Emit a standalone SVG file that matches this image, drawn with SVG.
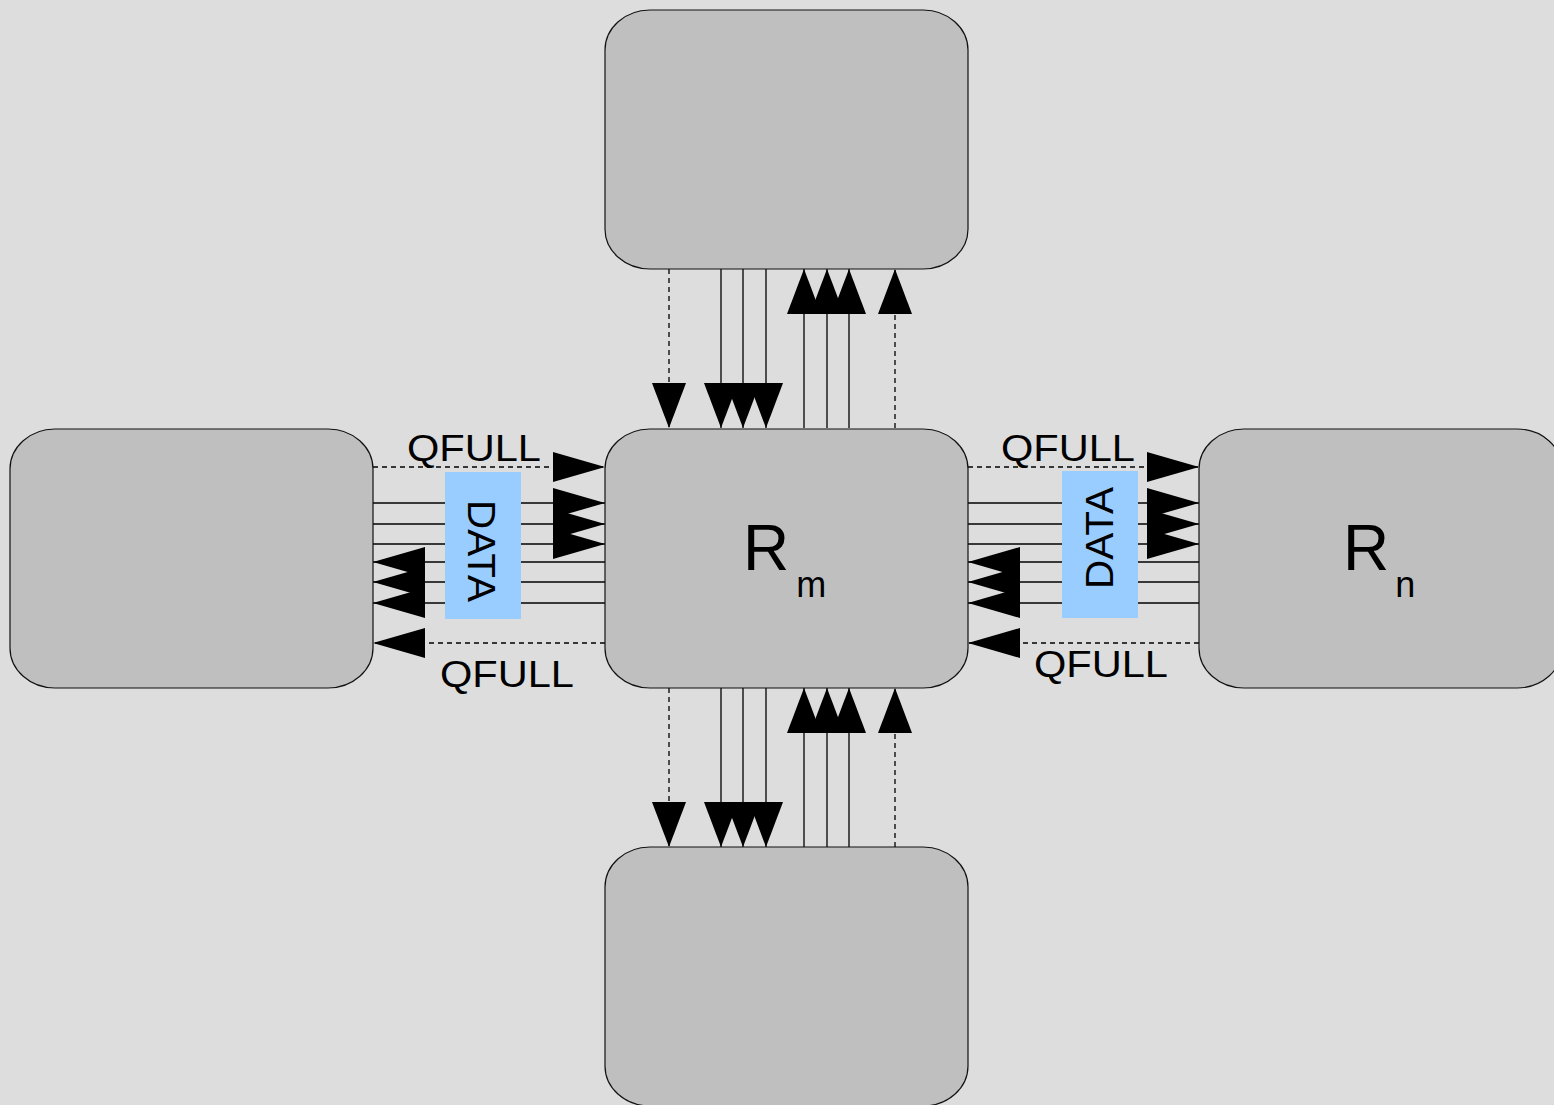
<svg xmlns="http://www.w3.org/2000/svg" width="1554" height="1105" viewBox="0 0 1554 1105">
<defs>
<style>
.box{fill:#bfbfbf;stroke:#111;stroke-width:1.2}
.ln{stroke:#000;stroke-width:1.3;fill:none}
.dash{stroke:#000;stroke-width:1.3;fill:none;stroke-dasharray:5,4}
.ah{marker-end:url(#ah)}
.av{marker-end:url(#av)}
.lbl{font-family:"Liberation Sans",Arial,sans-serif;fill:#000}
.data{fill:#99ccff}
</style>
<marker id="ah" markerUnits="userSpaceOnUse" markerWidth="52" markerHeight="30" refX="52" refY="15" orient="auto" overflow="visible">
<polygon points="0,0 52,15 0,30" fill="#000"/>
</marker>
<marker id="av" markerUnits="userSpaceOnUse" markerWidth="45" markerHeight="34" refX="45" refY="17" orient="auto" overflow="visible">
<polygon points="0,0 45,17 0,34" fill="#000"/>
</marker>
</defs>
<rect width="1554" height="1105" fill="#dddddd"/>

<g id="connectors">
<g id="left-links">
<line class="dash ah" x1="373" y1="467" x2="605" y2="467"/>
<line class="ln ah" x1="373" y1="503" x2="605" y2="503"/>
<line class="ln ah" x1="373" y1="524" x2="605" y2="524"/>
<line class="ln ah" x1="373" y1="544" x2="605" y2="544"/>
<line class="ln ah" x1="605" y1="562" x2="373" y2="562"/>
<line class="ln ah" x1="605" y1="582" x2="373" y2="582"/>
<line class="ln ah" x1="605" y1="603" x2="373" y2="603"/>
<line class="dash ah" x1="605" y1="643" x2="373" y2="643"/>
</g>
<g id="right-links">
<line class="dash ah" x1="968" y1="467" x2="1199" y2="467"/>
<line class="ln ah" x1="968" y1="503" x2="1199" y2="503"/>
<line class="ln ah" x1="968" y1="524" x2="1199" y2="524"/>
<line class="ln ah" x1="968" y1="544" x2="1199" y2="544"/>
<line class="ln ah" x1="1199" y1="562" x2="968" y2="562"/>
<line class="ln ah" x1="1199" y1="582" x2="968" y2="582"/>
<line class="ln ah" x1="1199" y1="603" x2="968" y2="603"/>
<line class="dash ah" x1="1199" y1="643" x2="968" y2="643"/>
</g>
<g id="top-links">
<line class="dash av" x1="669" y1="269" x2="669" y2="428"/>
<line class="ln av" x1="721" y1="269" x2="721" y2="428"/>
<line class="ln av" x1="743" y1="269" x2="743" y2="428"/>
<line class="ln av" x1="766" y1="269" x2="766" y2="428"/>
<line class="ln av" x1="804" y1="428" x2="804" y2="269"/>
<line class="ln av" x1="827" y1="428" x2="827" y2="269"/>
<line class="ln av" x1="849" y1="428" x2="849" y2="269"/>
<line class="dash av" x1="895" y1="428" x2="895" y2="269"/>
</g>
<g id="bottom-links">
<line class="dash av" x1="669" y1="688" x2="669" y2="847"/>
<line class="ln av" x1="721" y1="688" x2="721" y2="847"/>
<line class="ln av" x1="743" y1="688" x2="743" y2="847"/>
<line class="ln av" x1="766" y1="688" x2="766" y2="847"/>
<line class="ln av" x1="804" y1="847" x2="804" y2="688"/>
<line class="ln av" x1="827" y1="847" x2="827" y2="688"/>
<line class="ln av" x1="849" y1="847" x2="849" y2="688"/>
<line class="dash av" x1="895" y1="847" x2="895" y2="688"/>
</g>
</g>

<g id="node-top"><rect class="box" x="605" y="10" width="363" height="259" rx="45" ry="40"/></g>
<g id="node-left"><rect class="box" x="10" y="429" width="363" height="259" rx="45" ry="40"/></g>
<g id="node-center">
<rect class="box" x="605" y="429" width="363" height="259" rx="45" ry="40"/>
<text class="lbl" x="743" y="570" font-size="64">R<tspan font-size="36" dx="7" dy="27">m</tspan></text>
</g>
<g id="node-right">
<rect class="box" x="1199" y="429" width="363" height="259" rx="45" ry="40"/>
<text class="lbl" x="1343" y="570" font-size="64">R<tspan font-size="36" dx="6" dy="27">n</tspan></text>
</g>
<g id="node-bottom"><rect class="box" x="605" y="847" width="363" height="259" rx="45" ry="40"/></g>

<g id="data-left">
<rect class="data" x="445" y="472" width="76" height="147"/>
<text class="lbl" font-size="38" text-anchor="middle" transform="translate(482,551) rotate(90)" x="0" y="13.6" textLength="102" lengthAdjust="spacingAndGlyphs">DATA</text>
</g>
<g id="data-right">
<rect class="data" x="1062" y="471" width="76" height="147"/>
<text class="lbl" font-size="38" text-anchor="middle" transform="translate(1099,538) rotate(-90)" x="0" y="13.6" textLength="102" lengthAdjust="spacingAndGlyphs">DATA</text>
</g>

<g id="labels">
<text class="lbl" x="407" y="461" font-size="37" textLength="134" lengthAdjust="spacingAndGlyphs">QFULL</text>
<text class="lbl" x="440" y="687" font-size="37" textLength="134" lengthAdjust="spacingAndGlyphs">QFULL</text>
<text class="lbl" x="1001" y="461" font-size="37" textLength="134" lengthAdjust="spacingAndGlyphs">QFULL</text>
<text class="lbl" x="1034" y="677" font-size="37" textLength="134" lengthAdjust="spacingAndGlyphs">QFULL</text>
</g>
</svg>
